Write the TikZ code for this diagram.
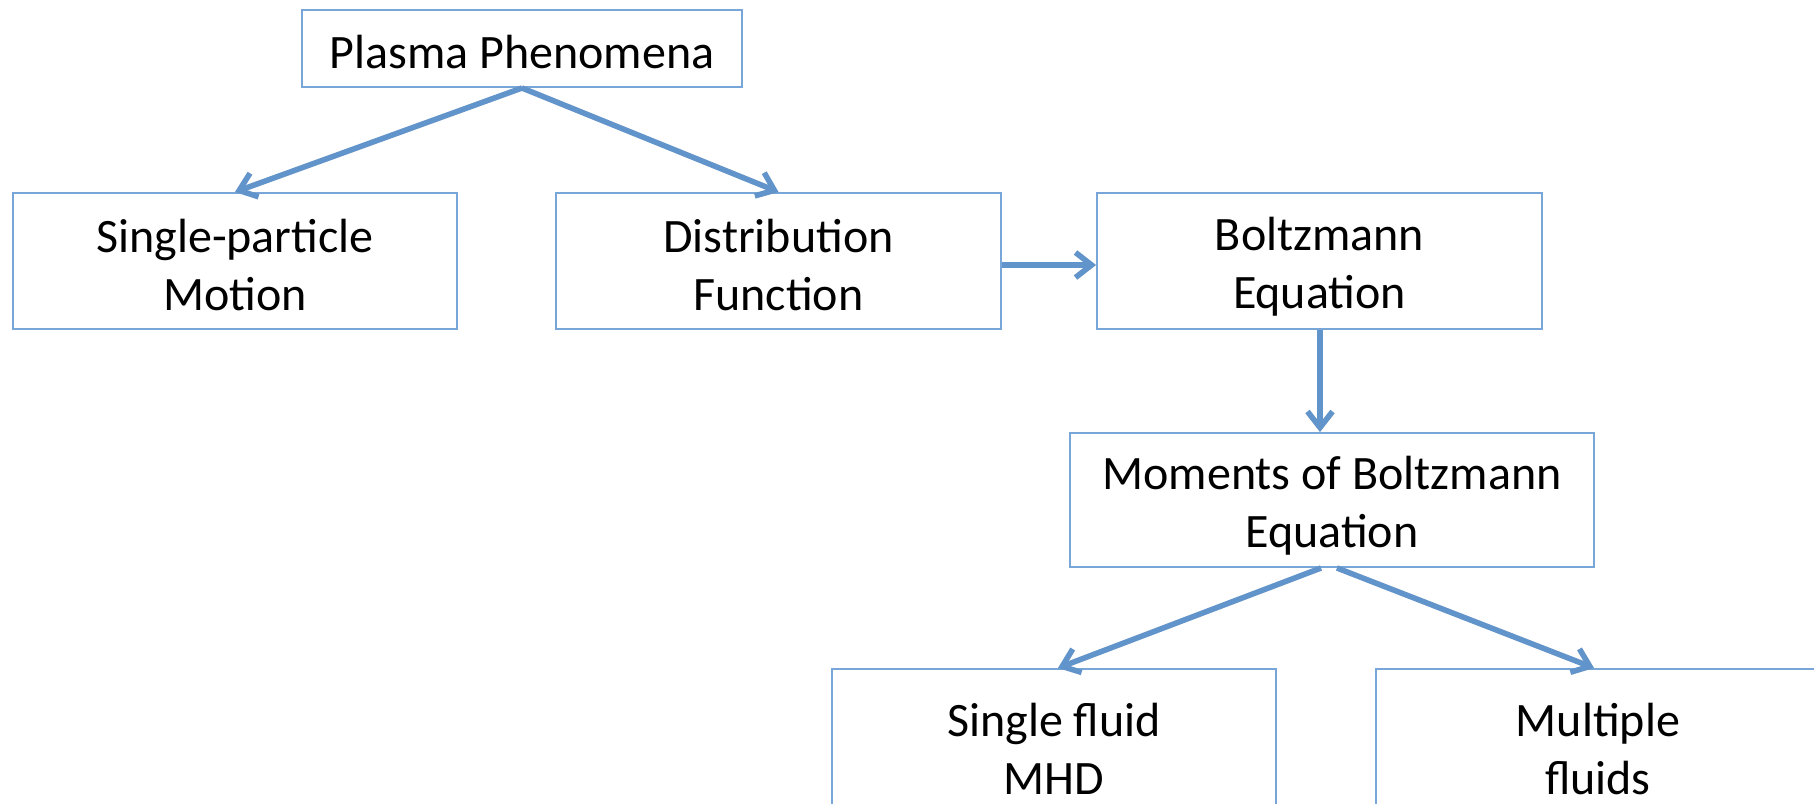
\documentclass[tikz,border=0pt]{standalone}
\usepackage{fontspec}
\setmainfont{Carlito}
\usetikzlibrary{arrows.meta}
\definecolor{boxblue}{RGB}{120,166,216}
\definecolor{arrowblue}{RGB}{98,148,204}
\newcommand\tstrut{\rule[-5pt]{0pt}{50pt}}
\tikzset{
  box/.style={draw=boxblue, line width=2pt, rectangle, align=center, inner sep=0pt,
    font=\fontsize{48}{58}\selectfont, text=black},
  conn/.style={draw=arrowblue, line width=5.5pt, -{Straight Barb[length=16pt,width=25pt,line width=5.5pt]}},
  shade/.style={draw=black!35, line width=5.5pt, opacity=0.35, -{Straight Barb[length=16pt,width=25pt,line width=5.5pt]}}
}
\begin{document}
\begin{tikzpicture}[x=1pt,y=-1pt]
\useasboundingbox (0,0) rectangle (1814,803);
\node[box, minimum width=440pt, minimum height=77pt] (pp) at (522,48.5) {\tstrut Plasma Phenomena};
\node[box, minimum width=444pt, minimum height=136pt] (sp) at (235,261) {\tstrut Single-particle\\\tstrut Motion};
\node[box, minimum width=445pt, minimum height=136pt] (df) at (778.5,261) {\tstrut Distribution\\\tstrut Function};
\node[box, minimum width=445pt, minimum height=136pt] (be) at (1319.5,261) {\tstrut Boltzmann\\\tstrut Equation};
\node[box, minimum width=524pt, minimum height=134pt] (mb) at (1332,500) {\tstrut Moments of Boltzmann\\\tstrut Equation};
\node[box, minimum width=444pt, minimum height=152pt] (mhd) at (1054,745) {\tstrut Single fluid\\\tstrut MHD};
\node[box, minimum width=444pt, minimum height=152pt] (mf) at (1598,745) {\tstrut Multiple\\\tstrut fluids};
% shadows
\begin{scope}[shift={(2,3)}]
\draw[shade] (pp.south) -- (sp.north);
\draw[shade] (pp.south) -- (df.north);
\draw[shade] ([yshift=-4pt]df.east) -- ([yshift=-4pt]be.west);
\draw[shade] ([xshift=0.5pt]be.south) -- ([xshift=0.5pt]be.south |- mb.north);
\draw[shade] ([xshift=-11pt]mb.south) -- ([xshift=4pt]mhd.north);
\draw[shade] ([xshift=5pt]mb.south) -- ([xshift=-4pt]mf.north);
\end{scope}
% connectors
\draw[conn] (pp.south) -- (sp.north);
\draw[conn] (pp.south) -- (df.north);
\draw[conn] ([yshift=-4pt]df.east) -- ([yshift=-4pt]be.west);
\draw[conn] ([xshift=0.5pt]be.south) -- ([xshift=0.5pt]be.south |- mb.north);
\draw[conn] ([xshift=-11pt]mb.south) -- ([xshift=4pt]mhd.north);
\draw[conn] ([xshift=5pt]mb.south) -- ([xshift=-4pt]mf.north);
\end{tikzpicture}
\end{document}
